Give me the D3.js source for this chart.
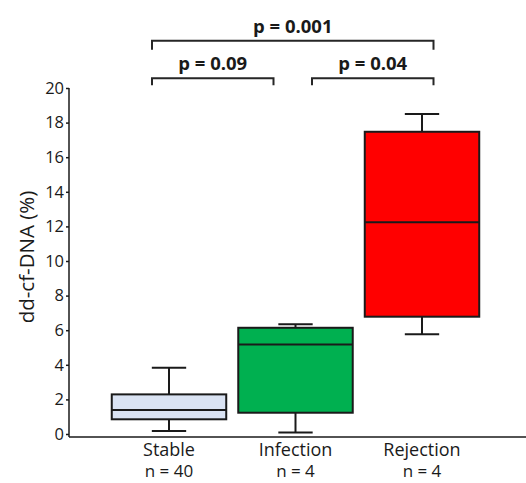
<!DOCTYPE html>
<html><head><meta charset="utf-8">
<script src="https://cdn.jsdelivr.net/npm/d3@7"></script>
<style>body{margin:0;background:#fff}svg{display:block}text{font-family:"Open Sans",sans-serif}</style>
</head><body>
<svg id="c" width="526" height="483"></svg>
<script>
const categories = ["Stable", "Infection", "Rejection"];
const counts = ["n = 40", "n = 4", "n = 4"];
const whiskerLow = [0.17, 0.08, 5.76];
const q1 = [0.85, 1.23, 6.78];
const median = [1.39, 5.18, 12.24];
const q3 = [2.29, 6.14, 17.47];
const whiskerHigh = [3.83, 6.34, 18.5];
const fills = ["#dae3f3", "#00b050", "#ff0000"];
const yTicks = [0, 2, 4, 6, 8, 10, 12, 14, 16, 18, 20];
const comparisons = [
  {a: "Stable", b: "Rejection", p: "p = 0.001", level: 22.73},
  {a: "Stable", b: "Infection", p: "p = 0.09", level: 20.56},
  {a: "Infection", b: "Rejection", p: "p = 0.04", level: 20.56}
];

const svg = d3.select("#c");
const y = d3.scaleLinear().domain([0, 20]).range([434, 88]);
const x = d3.scaleBand().domain(categories).range([105.75, 485.25]).paddingInner(0.095).paddingOuter(0.0475);
const ink = "#1a1a1a";

// axes
const yAxis = svg.append("g").attr("transform", "translate(69,0)")
  .call(d3.axisLeft(y).tickValues(yTicks).tickSize(3).tickSizeOuter(0).tickPadding(2));
yAxis.select(".domain").remove();
yAxis.selectAll(".tick line").attr("stroke", ink).attr("stroke-width", 1.5);
yAxis.selectAll(".tick text").attr("font-size", 16.5).attr("fill", "#1a1a1a").attr("font-family", "Open Sans");
svg.append("line").attr("x1", 69).attr("x2", 69).attr("y1", y(20)).attr("y2", 437).attr("stroke", ink).attr("stroke-width", 1.5);
svg.append("line").attr("x1", 69).attr("x2", 526).attr("y1", 437).attr("y2", 437).attr("stroke", ink).attr("stroke-width", 1.5);

svg.append("text").attr("transform", "translate(34," + (y(10) - 4) + ") rotate(-90)")
  .attr("text-anchor", "middle").attr("font-size", 20.5).attr("fill", "#1a1a1a").text("dd-cf-DNA (%)");

// boxes
const bw = x.bandwidth();
const capW = bw * 0.3;
categories.forEach((c, i) => {
  const cx = x(c) + bw / 2;
  const g = svg.append("g");
  g.append("line").attr("x1", cx).attr("x2", cx).attr("y1", y(whiskerHigh[i])).attr("y2", y(q3[i])).attr("stroke", ink).attr("stroke-width", 2);
  g.append("line").attr("x1", cx).attr("x2", cx).attr("y1", y(q1[i])).attr("y2", y(whiskerLow[i])).attr("stroke", ink).attr("stroke-width", 2);
  g.append("line").attr("x1", cx - capW / 2).attr("x2", cx + capW / 2).attr("y1", y(whiskerHigh[i])).attr("y2", y(whiskerHigh[i])).attr("stroke", ink).attr("stroke-width", 2);
  g.append("line").attr("x1", cx - capW / 2).attr("x2", cx + capW / 2).attr("y1", y(whiskerLow[i])).attr("y2", y(whiskerLow[i])).attr("stroke", ink).attr("stroke-width", 2);
  g.append("rect").attr("x", x(c)).attr("width", bw).attr("y", y(q3[i])).attr("height", y(q1[i]) - y(q3[i]))
    .attr("fill", fills[i]).attr("stroke", ink).attr("stroke-width", 2);
  g.append("line").attr("x1", x(c)).attr("x2", x(c) + bw).attr("y1", y(median[i])).attr("y2", y(median[i])).attr("stroke", ink).attr("stroke-width", 2);
  svg.append("text").attr("x", cx).attr("y", 456).attr("text-anchor", "middle").attr("font-size", 18).attr("fill", "#1a1a1a").text(c);
  svg.append("text").attr("x", cx).attr("y", 477).attr("text-anchor", "middle").attr("font-size", 17).attr("fill", "#1a1a1a").text(counts[i]);
});

// brackets
comparisons.forEach((d, k) => {
  const x1 = x(d.a) + bw / 2 + (d.a === "Stable" ? -17 : 16.5);
  const x2 = x(d.b) + bw / 2 + (d.b === "Infection" ? -22 : 11.5);
  const yy = y(d.level);
  const drop = k === 0 ? 9 : 7;
  svg.append("path").attr("d", `M${x1},${yy + drop}V${yy}H${x2}V${yy + drop}`)
    .attr("fill", "none").attr("stroke", "#262626").attr("stroke-width", 2);
  svg.append("text").attr("x", (x1 + x2) / 2).attr("y", yy - 8).attr("text-anchor", "middle")
    .attr("font-size", 18.5).attr("font-weight", "bold").attr("fill", "#1a1a1a").text(d.p);
});
</script>
</body></html>
